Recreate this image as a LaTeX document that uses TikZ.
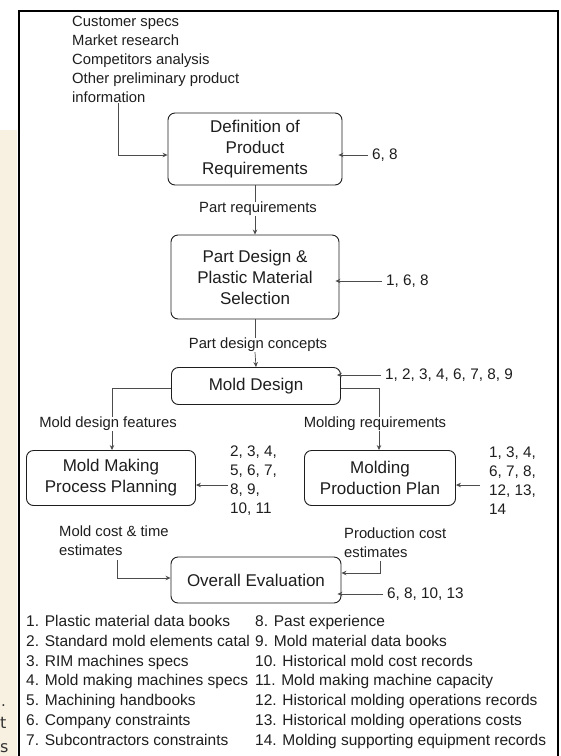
\documentclass[tikz,border=0pt]{standalone}
\usepackage{fontspec}
\setmainfont{Liberation Sans}
\newfontfamily\fragfont{DejaVu Sans}
\usetikzlibrary{arrows.meta,calc}
\definecolor{beige}{RGB}{248,240,224}
\definecolor{ink}{RGB}{30,30,30}
\begin{document}
\begin{tikzpicture}[x=1pt,y=-1pt,
  box/.style={draw=ink, line width=0.9pt, rounded corners=7pt, align=center,
    font=\fontsize{17}{21}\selectfont, text=ink, inner sep=0pt},
  lbl/.style={font=\fontsize{14.8}{19}\selectfont, text=ink, inner sep=0pt},
  nums/.style={font=\fontsize{15.3}{19}\selectfont, text=ink, inner sep=0pt, align=left, anchor=west},
  legend/.style={font=\fontsize{15.5}{19.8}\selectfont, text=ink, inner sep=0pt, align=left, anchor=north west},
  conn/.style={draw=black!70, line width=0.7pt},
  arr/.style={conn, -{Stealth[length=5pt,width=4.5pt]}},
]
\useasboundingbox (0,0) rectangle (561,756);
\fill[white] (0,0) rectangle (561,756);
% beige strip at left
\fill[beige] (0,130) rectangle (17,756);
\node[font=\fragfont\fontsize{15}{15}\selectfont, text=black!80, inner sep=0pt, anchor=west] (fr1) at (1,706) {.};
\node[font=\fragfont\fontsize{16}{16}\selectfont, text=black!80, inner sep=0pt, anchor=west] (fr2) at (0,723) {t};
\node[font=\fragfont\fontsize{16}{16}\selectfont, text=black!80, inner sep=0pt, anchor=west] (fr3) at (0,748) {s};
% frame
\draw[black, line width=2pt] (18.5,770) -- (18.5,10.5) -- (557.5,10.5) -- (557.5,770);

% input text
\node[lbl, align=left, anchor=north west] (inp) at (72,16)
  {Customer specs\\Market research\\Competitors analysis\\Other preliminary product\\information};

% boxes
\node[box, minimum width=174pt, minimum height=72pt] (b1) at (255,149) {Definition of\\Product\\Requirements};
\node[box, minimum width=168pt, minimum height=84pt] (b2) at (255,277) {Part Design \&\\Plastic Material\\Selection};
\node[box, minimum width=169pt, minimum height=37pt] (b3) at (256,386) {Mold Design};
\node[box, minimum width=169pt, minimum height=55pt] (b4) at (111,478) {Mold Making\\Process Planning};
\node[box, minimum width=151pt, minimum height=55pt] (b5) at (380,478) {Molding\\Production Plan};
\node[box, minimum width=170pt, minimum height=46pt] (b6) at (256,580) {Overall Evaluation};

% labels
\node[lbl] (pr) at (258,209) {Part requirements};
\node[lbl] (pdc) at (258,345) {Part design concepts};
\node[lbl] (mdf) at (108,424) {Mold design features};
\node[lbl] (mr) at (375,424) {Molding requirements};
\node[lbl, align=left, anchor=west] (mc) at (59,541) {Mold cost \& time\\estimates};
\node[lbl, align=left, anchor=west] (pc) at (344,543) {Production cost\\estimates};

% number lists
\node[nums] (n1) at (372,155) {6, 8};
\node[nums] (n2) at (386,281) {1, 6, 8};
\node[nums] (n3) at (385,375) {1, 2, 3, 4, 6, 7, 8, 9};
\node[nums] (n4) at (230,481) {2, 3, 4,\\5, 6, 7,\\8, 9,\\10, 11};
\node[nums] (n5) at (489,481) {1, 3, 4,\\6, 7, 8,\\12, 13,\\14};
\node[nums] (n6) at (387,594) {6, 8, 10, 13};

% legend
\node[legend] (lg1) at (26,615) {1. Plastic material data books\\2. Standard mold elements catal\\3. RIM machines specs\\4. Mold making machines specs\\5. Machining handbooks\\6. Company constraints\\7. Subcontractors constraints};
\node[legend] (lg2) at (255,615) {8. Past experience\\9. Mold material data books\\10. Historical mold cost records\\11. Mold making machine capacity\\12. Historical molding operations records\\13. Historical molding operations costs\\14. Molding supporting equipment records};

% coordinates for bends
\coordinate (in1) at (118,103);
\coordinate (lx) at (112,388);
\coordinate (rx) at (379,388);
\coordinate (a4) at (228,485);
\coordinate (a5) at (480,485);
\coordinate (ex1) at (117,560);
\coordinate (ex2) at (380,561);

% connectors
\draw[arr] (in1) |- ($(b1.west)+(0,6)$);
\draw[arr] ([xshift=-4pt]n1.west) -- ([xshift=-4pt]n1.west -| b1.east);
\draw[conn] (b1.south) -- (b1.south |- pr.north);
\draw[arr] (b1.south |- pr.south) -- (b2.north);
\draw[arr] ([xshift=-4pt]n2.west) -- ([xshift=-4pt]n2.west -| b2.east);
\draw[conn] (b2.south) -- (b2.south |- pdc.north);
\draw[arr] (b2.south |- pdc.south) -- (b3.north);
\draw[arr] ([xshift=-4pt]n3.west) -- ([xshift=-4pt]n3.west -| b3.east);
\draw[conn] (lx -| b3.west) -- (lx) -- (lx |- mdf.north);
\draw[conn] (rx -| b3.east) -- (rx) -- (rx |- mr.north);
\draw[arr] (lx |- mdf.south) -- (lx |- b4.north);
\draw[arr] (rx |- mr.south) -- (rx |- b5.north);
\draw[arr] (a4) -- (a4 -| b4.east);
\draw[arr] (a5) -- (a5 -| b5.east);
\draw[arr] (ex1) |- ($(b6.west)+(0,-2)$);
\draw[arr] (ex2) |- ($(b6.east)+(0,-7)$);
\draw[arr] ([xshift=-4pt]n6.west) -- ([xshift=-4pt]n6.west -| b6.east);
\end{tikzpicture}
\end{document}
